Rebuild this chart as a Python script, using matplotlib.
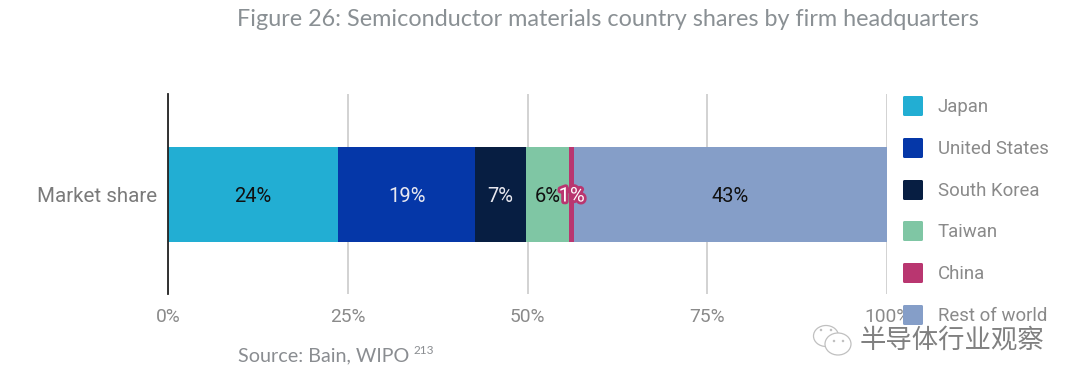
import matplotlib
matplotlib.use("Agg")
import matplotlib.pyplot as plt
import matplotlib.patheffects as pe
from matplotlib.patches import Ellipse, FancyBboxPatch

W, H = 1080, 387

names = ["Japan", "United States", "South Korea", "Taiwan", "China", "Rest of world"]
shares = [23.7, 19.0, 7.1, 6.0, 0.7, 43.5]
labels = ["24%", "19%", "7%", "6%", "1%", "43%"]
colors = ["#22aed3", "#0537a8", "#071e42", "#7fc6a4", "#b93670", "#859ec8"]
label_colors = ["#111111", "#e8e8f0", "#e8e8f0", "#111111", "#ffffff", "#111111"]
xticks = [0, 25, 50, 75, 100]
xticklabels = ["0%", "25%", "50%", "75%", "100%"]

plt.rcParams["font.family"] = ["Roboto", "DejaVu Sans"]
fig = plt.figure(figsize=(W / 100, H / 100), dpi=100)

# main axes placed in pixel terms
ax = fig.add_axes([168 / W, 1 - 294 / H, (887 - 168) / W, 200 / H])
ax.set_xlim(0, 100)
ax.set_ylim(-0.5, 0.5)
ax.set_axisbelow(True)
ax.grid(axis="x", color="#cfcfcf", lw=1.3)
for s in ["top", "right", "bottom"]:
    ax.spines[s].set_visible(False)
ax.spines["left"].set_color("#222222")
ax.spines["left"].set_linewidth(1.3)
ax.set_xticks(xticks)
ax.set_xticklabels(xticklabels, fontsize=13.8, color="#8a8a8a")
ax.set_yticks([0])
ax.set_yticklabels(["Market share"], fontsize=14.8, color="#7a7a7a")
ax.tick_params(length=0)
ax.tick_params(axis="x", pad=10)
ax.tick_params(axis="y", pad=8)

left = 0
for i in range(len(shares)):
    ax.barh(0, shares[i], left=left, height=0.475, color=colors[i], lw=0)
    cx = left + shares[i] / 2
    t = ax.text(cx, -0.01, labels[i], ha="center", va="center", fontsize=14.5,
                color=label_colors[i], zorder=5)
    if names[i] == "China":
        t.set_path_effects([pe.withStroke(linewidth=4, foreground=colors[i])])
    left += shares[i]

# legend drawn by hand on an overlay in pixel coordinates
ov = fig.add_axes([0, 0, 1, 1], zorder=10)
ov.set_xlim(0, W)
ov.set_ylim(H, 0)
ov.axis("off")
legend_y = [106, 148, 190, 231, 273, 315]
for name, c, y in zip(names, colors, legend_y):
    ov.add_patch(FancyBboxPatch((903, y - 10), 20, 20, boxstyle="round,pad=0,rounding_size=1.5",
                                fc=c, ec="none"))
    ov.text(938, y + 1, name, fontsize=13.4, color="#8a8a8a", va="center", ha="left")

ov.text(608, 19, "Figure 26: Semiconductor materials country shares by firm headquarters",
        fontsize=16.8, color="#8a9094", ha="center", va="center", family="Lato")
ov.text(238, 356, "Source: Bain, WIPO", fontsize=14.2, color="#8a8d91", va="center", family="Lato")
ov.text(413, 351, "213", fontsize=8.5, color="#8a8d91", va="center", family="Lato")

# watermark
ov.text(860, 340, "半导体行业观察", fontsize=19, color="#808080", va="center", ha="left",
        family=["Noto Sans CJK SC", "DejaVu Sans"], weight="light", zorder=12)
ov.add_patch(Ellipse((826, 336), 25, 21, fc="white", ec="#c0c0c0", lw=0.9, zorder=11))
ov.add_patch(Ellipse((838, 344), 26, 22, fc="white", ec="#c0c0c0", lw=0.9, zorder=11))
for px, py in [(821, 330), (831, 330), (834, 341), (843, 341)]:
    ov.add_patch(Ellipse((px, py), 2.5, 2.5, fc="#c0c0c0", ec="none", zorder=12))

fig.savefig("out.png", dpi=100, facecolor="white")
